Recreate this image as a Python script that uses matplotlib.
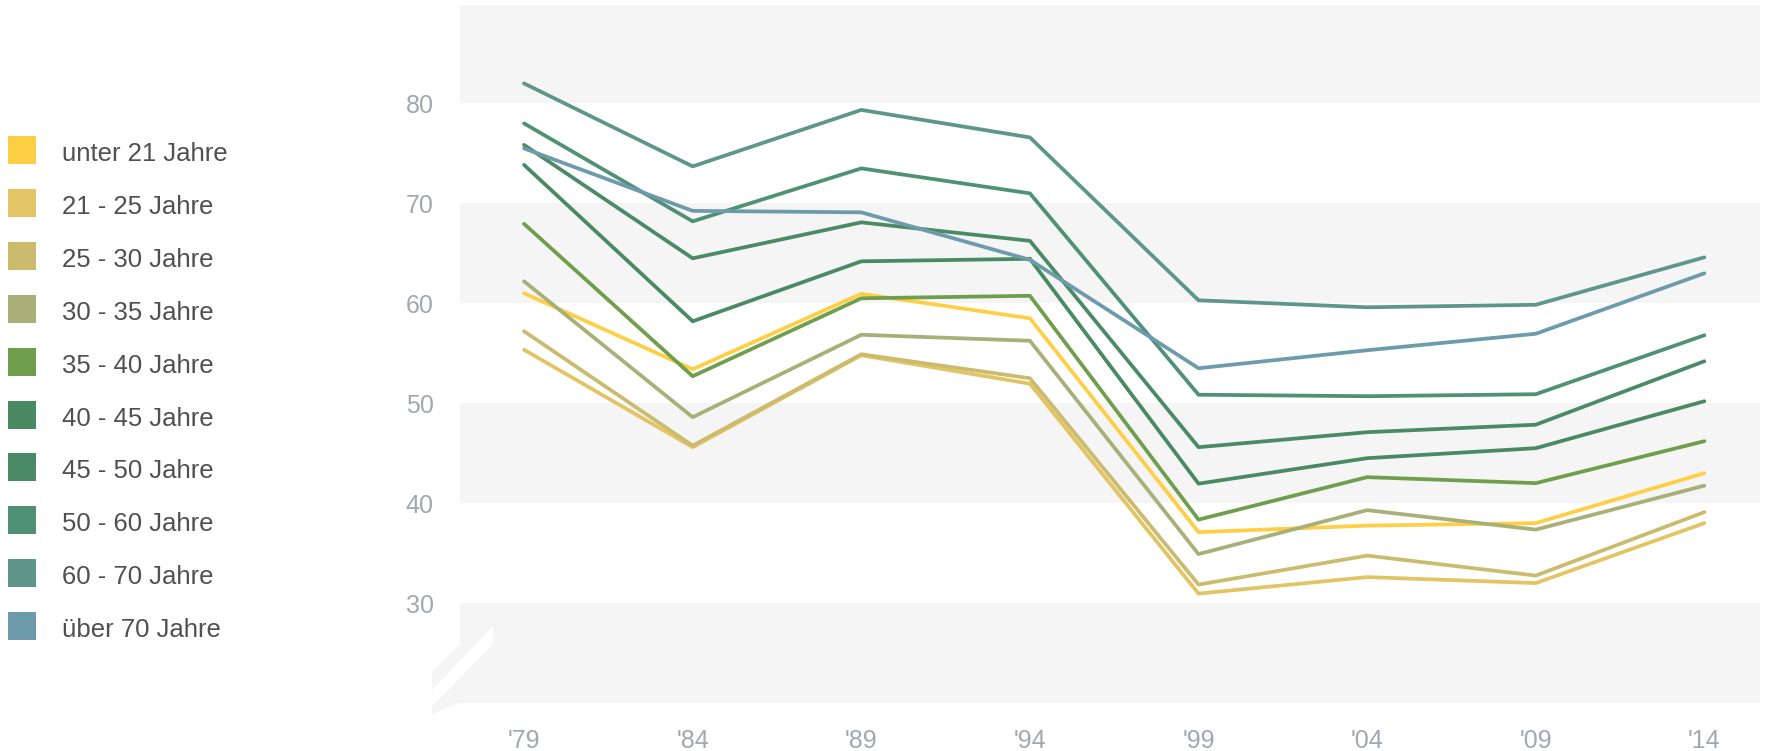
import matplotlib
matplotlib.use('Agg')
import matplotlib.pyplot as plt
from matplotlib.patches import Rectangle, Polygon

plt.rcParams['font.family'] = ['Liberation Sans', 'DejaVu Sans']

# Wahlbeteiligung nach Altersgruppen
years = ["'79", "'84", "'89", "'94", "'99", "'04", "'09", "'14"]

unter_21 = [61.0, 53.4, 60.95, 58.5, 37.1, 37.75, 38.0, 43.0]
a21_25 = [55.35, 45.6, 54.8, 51.95, 30.95, 32.6, 32.0, 38.0]
a25_30 = [57.2, 45.75, 54.9, 52.5, 31.85, 34.75, 32.75, 39.1]
a30_35 = [62.2, 48.6, 56.85, 56.25, 34.9, 39.3, 37.35, 41.75]
a35_40 = [67.95, 52.7, 60.5, 60.75, 38.35, 42.6, 42.0, 46.2]
a40_45 = [73.85, 58.2, 64.2, 64.45, 41.95, 44.5, 45.5, 50.2]
a45_50 = [75.85, 64.5, 68.1, 66.25, 45.6, 47.1, 47.85, 54.2]
a50_60 = [78.0, 68.2, 73.5, 71.0, 50.85, 50.7, 50.9, 56.8]
a60_70 = [82.0, 73.7, 79.35, 76.6, 60.3, 59.6, 59.85, 64.6]
ueber_70 = [75.5, 69.25, 69.1, 64.35, 53.5, 55.3, 56.95, 63.0]

labels = ['unter 21 Jahre', '21 - 25 Jahre', '25 - 30 Jahre', '30 - 35 Jahre',
          '35 - 40 Jahre', '40 - 45 Jahre', '45 - 50 Jahre', '50 - 60 Jahre',
          '60 - 70 Jahre', 'über 70 Jahre']
series = [unter_21, a21_25, a25_30, a30_35, a35_40, a40_45, a45_50, a50_60,
          a60_70, ueber_70]
colors = ['#fecf45', '#e3c464', '#cbbb6e', '#a8b078', '#6f9e4c',
          '#4a8a62', '#4a8a66', '#4f9176', '#5e968a', '#6d9bab']

W, H = 1769, 751
fig = plt.figure(figsize=(W / 100, H / 100), dpi=100)
ax = fig.add_axes([460 / W, 1 - 703 / H, 1300 / W, 698 / H])

x = list(range(len(years)))

# alternating background bands
for lo in [20, 40, 60, 80]:
    ax.axhspan(lo, lo + 10, color='#f5f5f5', zorder=0, lw=0)

for vals, c in zip(series, colors):
    ax.plot(x, vals, color=c, lw=2.7, solid_capstyle='round', zorder=2)

ax.set_xlim(-0.38, 7.33)
ax.set_ylim(20, 89.85)
ax.set_xticks(x)
ax.set_xticklabels(years)
ax.set_yticks([30, 40, 50, 60, 70, 80])
ax.tick_params(length=0, labelsize=18, labelcolor='#a3a7b0')
ax.tick_params(axis='y', pad=19)
ax.tick_params(axis='x', pad=19)
for s in ax.spines.values():
    s.set_visible(False)


def px(pts):
    return [(px_x / W, 1 - px_y / H) for px_x, px_y in pts]


# axis break marker at the bottom left
fig.add_artist(Polygon(px([(432, 714), (432, 672), (460, 644), (460, 703)]),
                       closed=True, fc='#f5f5f5', ec='none',
                       transform=fig.transFigure, zorder=1))
fig.add_artist(Polygon(px([(432, 706), (432, 690), (493, 626), (493, 644)]),
                       closed=True, fc='white', ec='none',
                       transform=fig.transFigure, zorder=1))

# legend on the left
for i, (lab, c) in enumerate(zip(labels, colors)):
    yc = 150 + i * 52.9
    fig.add_artist(Rectangle((8 / W, 1 - (yc + 14) / H), 28 / W, 28 / H,
                             fc=c, ec='none', transform=fig.transFigure))
    fig.text(62 / W, 1 - (yc + 4) / H, lab, fontsize=18.5, color='#505050',
             va='center', ha='left')

fig.savefig('out.png', dpi=100)
